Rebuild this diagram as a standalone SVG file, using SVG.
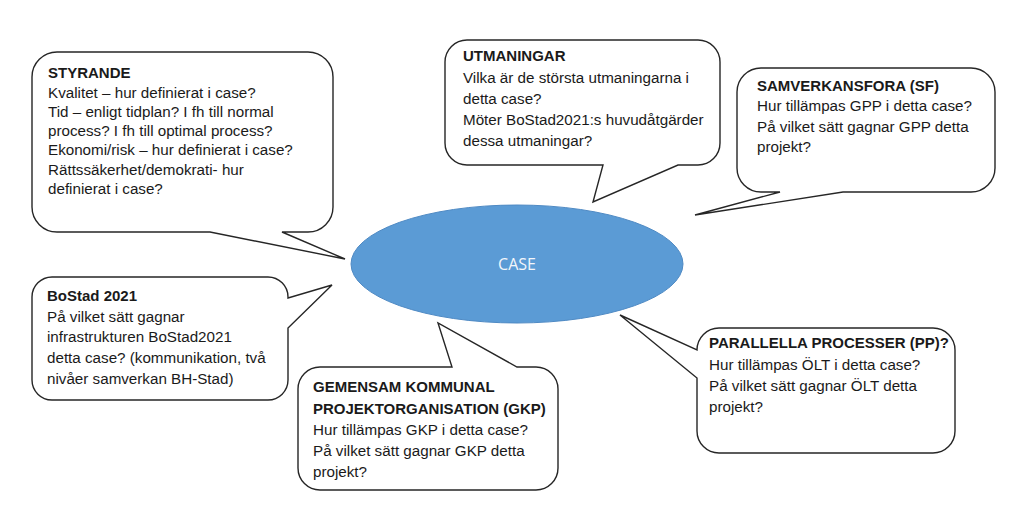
<svg xmlns="http://www.w3.org/2000/svg" width="1024" height="512" viewBox="0 0 1024 512">
<style>
.bubble{fill:#ffffff;stroke:#262626;stroke-width:1.4;stroke-linejoin:miter}
text{font-family:"Liberation Sans",Arial,sans-serif;fill:#1a1a1a}
.t{font-size:15px;font-weight:bold}
.b{font-size:15.2px}
.case{font-family:"Open Sans","Liberation Sans",sans-serif;font-size:16px;fill:#f2f6fb}
</style>
<rect width="1024" height="512" fill="#ffffff"/>
<g id="case">
<ellipse cx="517" cy="264" rx="166" ry="59" fill="#5b9bd5" stroke="#4f8ac4" stroke-width="1"/>
<text class="case" x="517" y="270" text-anchor="middle">CASE</text>
</g>
<g id="styrande">
<path class="bubble" d="M57,52 H308 A25,25 0 0 1 333,77 V207 A25,25 0 0 1 308,232 H282 L345,259 L210,232 H57 A25,25 0 0 1 32,207 V77 A25,25 0 0 1 57,52 Z"/>
<text class="t" x="48" y="78">STYRANDE</text>
<text class="b" x="48" y="97.5">Kvalitet – hur definierat i case?</text>
<text class="b" x="48" y="116.5">Tid – enligt tidplan? I fh till normal</text>
<text class="b" x="48" y="136">process? I fh till optimal process?</text>
<text class="b" x="48" y="155">Ekonomi/risk – hur definierat i case?</text>
<text class="b" x="48" y="174.5">Rättssäkerhet/demokrati- hur</text>
<text class="b" x="48" y="193.5">definierat i case?</text>
</g>
<g id="utmaningar">
<path class="bubble" d="M467,40 H698 A22,22 0 0 1 720,62 V143 A22,22 0 0 1 698,165 H678 L593,202 L603,165 H467 A22,22 0 0 1 445,143 V62 A22,22 0 0 1 467,40 Z"/>
<text class="t" x="463" y="61">UTMANINGAR</text>
<text class="b" x="463" y="82.5">Vilka är de största utmaningarna i</text>
<text class="b" x="463" y="103.5">detta case?</text>
<text class="b" x="463" y="124.5">Möter BoStad2021:s huvudåtgärder</text>
<text class="b" x="463" y="145.5">dessa utmaningar?</text>
</g>
<g id="samverkansfora">
<path class="bubble" d="M761,68 H971 A24,24 0 0 1 995,92 V168 A24,24 0 0 1 971,192 H843 L695,215 L780,192 H761 A24,24 0 0 1 737,168 V92 A24,24 0 0 1 761,68 Z"/>
<text class="t" x="757" y="91">SAMVERKANSFORA (SF)</text>
<text class="b" x="757" y="111">Hur tillämpas GPP i detta case?</text>
<text class="b" x="757" y="131.5">På vilket sätt gagnar GPP detta</text>
<text class="b" x="757" y="152">projekt?</text>
</g>
<g id="bostad">
<path class="bubble" d="M52,277 H268 A20,20 0 0 1 288,297 V298 L332,285 L288,328 V380 A20,20 0 0 1 268,400 H52 A20,20 0 0 1 32,380 V297 A20,20 0 0 1 52,277 Z"/>
<text class="t" x="47" y="301">BoStad 2021</text>
<text class="b" x="47" y="322">På vilket sätt gagnar</text>
<text class="b" x="47" y="342">infrastrukturen BoStad2021</text>
<text class="b" x="47" y="363">detta case? (kommunikation, två</text>
<text class="b" x="47" y="384">nivåer samverkan BH-Stad)</text>
</g>
<g id="gkp">
<path class="bubble" d="M320,367 H452 L438,323 L517,367 H536 A22,22 0 0 1 558,389 V468 A22,22 0 0 1 536,490 H320 A22,22 0 0 1 298,468 V389 A22,22 0 0 1 320,367 Z"/>
<text class="t" x="313" y="392">GEMENSAM KOMMUNAL</text>
<text class="t" x="313" y="414">PROJEKTORGANISATION (GKP)</text>
<text class="b" x="313" y="435">Hur tillämpas GKP i detta case?</text>
<text class="b" x="313" y="456">På vilket sätt gagnar GKP detta</text>
<text class="b" x="313" y="477">projekt?</text>
</g>
<g id="pp">
<path class="bubble" d="M719,328 H933 A22,22 0 0 1 955,350 V431 A22,22 0 0 1 933,453 H719 A22,22 0 0 1 697,431 V378 L620,315 L697,350 A22,22 0 0 1 719,328 Z"/>
<text class="t" x="709" y="348">PARALLELLA PROCESSER (PP)?</text>
<text class="b" x="709" y="370">Hur tillämpas ÖLT i detta case?</text>
<text class="b" x="709" y="391">På vilket sätt gagnar ÖLT detta</text>
<text class="b" x="709" y="412">projekt?</text>
</g>
</svg>
